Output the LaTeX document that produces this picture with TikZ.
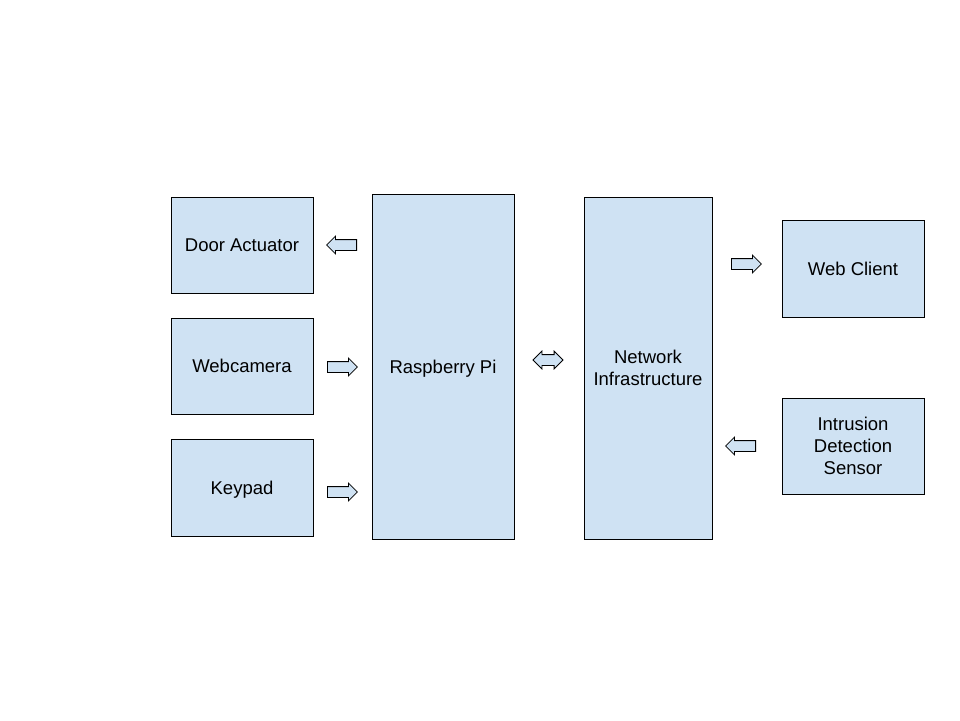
\documentclass[tikz,border=0pt]{standalone}
\usepackage{fontspec}
\setmainfont{Liberation Sans}
\usetikzlibrary{shapes.arrows}
\definecolor{boxblue}{HTML}{CFE2F3}
\begin{document}
\begin{tikzpicture}[x=1pt, y=-1pt,
    block/.style={draw, fill=boxblue, line width=0.8pt, align=center,
                  inner sep=0pt, font=\fontsize{18.5}{22}\selectfont},
    oneline/.style={text height=13pt, text depth=0pt},
    blockarrow/.style={single arrow, draw, fill=boxblue, line width=0.8pt, anchor=tail,
                  minimum height=30pt, single arrow head extend=3.5pt, inner sep=5pt},
    twoarrow/.style={double arrow, draw, fill=boxblue, line width=0.8pt,
                  minimum height=30pt, double arrow head extend=3.5pt, inner sep=5pt},
  ]
  \useasboundingbox (0,0) rectangle (960,720);
  % devices on the left
  \node[block, oneline, minimum width=142pt, minimum height=96pt] (door)   at (242,245) {Door Actuator};
  \node[block, oneline, minimum width=142pt, minimum height=96pt] (webcam) at (242,366) {Webcamera};
  \node[block, oneline, minimum width=142pt, minimum height=97pt] (keypad) at (242,487.5) {Keypad};
  % controller and network
  \node[block, oneline, minimum width=142pt, minimum height=345pt] (rpi) at (443,366.5) {Raspberry Pi};
  \node[block, minimum width=128pt, minimum height=342pt] (net) at (648,368) {Network\\Infrastructure};
  % devices on the right
  \node[block, oneline, minimum width=142pt, minimum height=97pt] (client) at (853,268.5) {Web Client};
  \node[block, minimum width=142pt, minimum height=96pt] (sensor) at (853,446) {Intrusion\\Detection\\Sensor};
  % block arrows, placed by their tails
  \node[blockarrow, shape border rotate=180] (a-door)   at (357,245) {};
  \node[blockarrow]                          (a-webcam) at (327,367) {};
  \node[blockarrow]                          (a-keypad) at (327,492) {};
  \node[twoarrow]                            (a-net)    at (548,360) {};
  \node[blockarrow]                          (a-client) at (731,264) {};
  \node[blockarrow, shape border rotate=180] (a-sensor) at (756,446) {};
\end{tikzpicture}
\end{document}
